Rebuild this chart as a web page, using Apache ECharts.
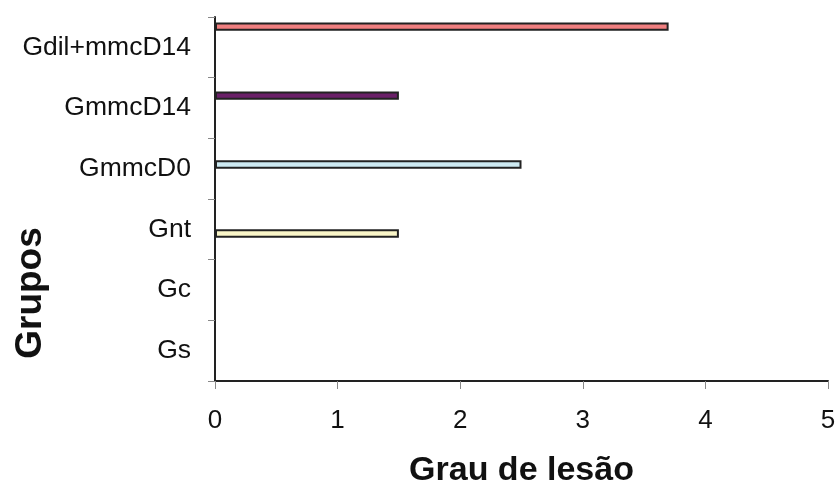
<!DOCTYPE html>
<html>
<head>
<meta charset="utf-8">
<script src="https://cdn.jsdelivr.net/npm/echarts@6/dist/echarts.min.js"></script>
<style>
  html, body { margin: 0; padding: 0; background: #fff; }
  #chart { width: 839px; height: 494px; }
</style>
</head>
<body>
<div id="chart"></div>
<script>
// Groups from bottom to top of the category axis
const categories = ['Gs', 'Gc', 'Gnt', 'GmmcD0', 'GmmcD14', 'Gdil+mmcD14'];
// Lesion grade per group (same order as categories)
const lesionGrade = [0, 0, 1.5, 2.5, 1.5, 3.7];
// Fill colour per group
const groupColors = ['#ffffff', '#ffffff', '#faf6c8', '#cdeaf2', '#6a1f68', '#f07f80'];
const xTicks = [0, 1, 2, 3, 4, 5];

const FONT = '"Liberation Sans", Arial, Helvetica, sans-serif';

// One series per group so each bar keeps its own slot in the category band;
// listed top group first so it takes the upper slot.
const series = [];
for (let i = categories.length - 1; i >= 0; i--) {
  const data = categories.map((c, j) => (j === i ? lesionGrade[i] : '-'));
  series.push({
    name: categories[i],
    type: 'bar',
    data: data,
    barWidth: 8.3,
    barGap: '0%',
    itemStyle: { color: groupColors[i], borderColor: '#222', borderWidth: 2 },
    silent: true
  });
}

const chart = echarts.init(document.getElementById('chart'));
chart.setOption({
  animation: false,
  backgroundColor: '#fff',
  grid: { left: 215, right: 11, top: 17, bottom: 113, containLabel: false },
  xAxis: {
    type: 'value',
    min: xTicks[0],
    max: xTicks[xTicks.length - 1],
    interval: 1,
    axisLine: { show: true, lineStyle: { color: '#222', width: 2 } },
    axisTick: { show: true, length: 8, lineStyle: { color: '#888', width: 1 } },
    axisLabel: { margin: 27, fontSize: 26, color: '#111', fontFamily: FONT },
    splitLine: { show: false },
    name: 'Grau de lesão',
    nameLocation: 'middle',
    nameGap: 73,
    nameTextStyle: { fontSize: 34, fontWeight: 'bold', color: '#111', fontFamily: FONT }
  },
  yAxis: {
    type: 'category',
    data: categories,
    axisLine: { show: true, lineStyle: { color: '#222', width: 2 } },
    axisTick: { show: true, length: 7, lineStyle: { color: '#888', width: 1 } },
    axisLabel: { margin: 24, fontSize: 26.5, color: '#111', fontFamily: FONT }
  },
  graphic: [{
    type: 'text',
    x: 31,
    y: 293,
    rotation: Math.PI / 2,
    style: {
      text: 'Grupos',
      font: 'bold 37px ' + FONT,
      fill: '#111',
      textAlign: 'center',
      textVerticalAlign: 'middle'
    }
  }],
  series: series
});
</script>
</body>
</html>
